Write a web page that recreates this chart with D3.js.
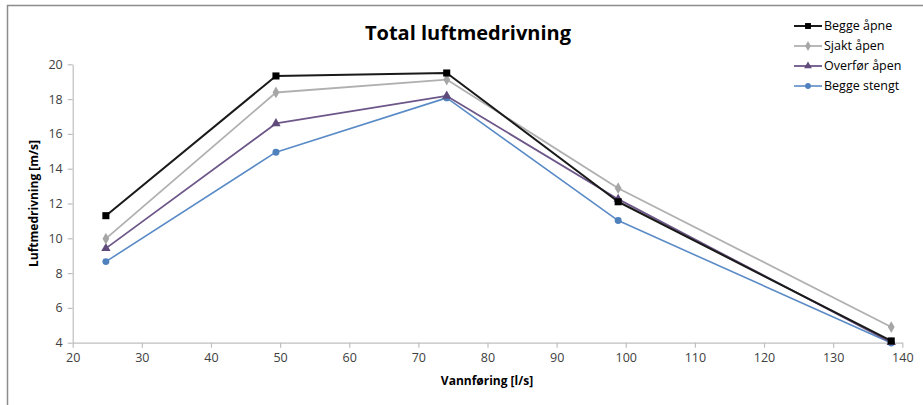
<!DOCTYPE html>
<html>
<head>
<meta charset="utf-8">
<script src="https://cdn.jsdelivr.net/npm/d3@7/dist/d3.min.js"></script>
<style>
  html, body { margin: 0; padding: 0; background: #fff; }
  svg { display: block; }
  text { font-family: "Open Sans", "Liberation Sans", sans-serif; }
</style>
</head>
<body>
<svg id="chart" width="923" height="405"></svg>
<script>
// Flow rates (l/s) at which air entrainment was measured
const flow = [24.8, 49.4, 74.1, 98.9, 138.4];

// Total air entrainment (m/s) per configuration
const beggeApne   = [11.3, 19.33, 19.5, 12.1, 4.1];
const sjaktApen   = [9.98, 18.38, 19.12, 12.88, 4.9];
const overforApen = [9.42, 16.6, 18.18, 12.25, 4.02];
const beggeStengt = [8.66, 14.95, 18.07, 11.02, 3.98];

const seriesNames = ["Begge åpne", "Sjakt åpen", "Overfør åpen", "Begge stengt"];
const xTicks = [20, 30, 40, 50, 60, 70, 80, 90, 100, 110, 120, 130, 140];
const yTicks = [4, 6, 8, 10, 12, 14, 16, 18, 20];

const series = [
  { name: seriesNames[0], values: beggeApne,   color: "#000000", line: "#1a1a1a", width: 2,   symbol: d3.symbolSquare,   size: 50 },
  { name: seriesNames[1], values: sjaktApen,   color: "#a6a6a6", line: "#b0b0b0", width: 1.8, symbol: d3.symbolDiamond,  size: 40 },
  { name: seriesNames[2], values: overforApen, color: "#604a7b", line: "#6d5789", width: 1.8, symbol: d3.symbolTriangle, size: 38 },
  { name: seriesNames[3], values: beggeStengt, color: "#4f81bd", line: "#5a8bc6", width: 1.6, symbol: d3.symbolCircle,   size: 38 }
];

const svg = d3.select("#chart");

// Chart frame
svg.append("rect")
  .attr("x", 7.5).attr("y", 5.5)
  .attr("width", 930).attr("height", 420)
  .attr("fill", "none")
  .attr("stroke", "#8c8c8c")
  .attr("stroke-width", 1.5);

const x = d3.scaleLinear().domain([20, 140]).range([72.7, 902.3]);
const y = d3.scaleLinear().domain([4, 20]).range([342.7, 64.3]);

// Axes
const xAxis = d3.axisBottom(x).tickValues(xTicks).tickSize(5).tickSizeOuter(0).tickPadding(4);
const yAxis = d3.axisLeft(y).tickValues(yTicks).tickSize(5).tickSizeOuter(0).tickPadding(5);

const gx = svg.append("g").attr("transform", `translate(0,${y(4)})`).call(xAxis);
const gy = svg.append("g").attr("transform", `translate(${x(20)},0)`).call(yAxis);

[gx, gy].forEach(g => {
  g.select(".domain").attr("stroke", "#bfbfbf").attr("stroke-width", 1.2);
  g.selectAll(".tick line").attr("stroke", "#bfbfbf").attr("stroke-width", 1.2);
  g.selectAll(".tick text")
    .attr("fill", "#404040")
    .style("font-size", "12.5px")
    .style("font-family", "'Open Sans', 'Liberation Sans', sans-serif");
});
gx.selectAll(".tick text").attr("dy", "0.85em");

// Title
svg.append("text")
  .attr("x", 468).attr("y", 40)
  .attr("text-anchor", "middle")
  .style("font-size", "20px")
  .style("font-weight", "bold")
  .attr("fill", "#000")
  .text("Total luftmedrivning");

// Axis titles
svg.append("text")
  .attr("x", 487).attr("y", 385)
  .attr("text-anchor", "middle")
  .style("font-size", "12px")
  .style("font-weight", "bold")
  .attr("fill", "#000")
  .text("Vannføring [l/s]");

svg.append("text")
  .attr("transform", `translate(38,${(y(4) + y(20)) / 2}) rotate(-90)`)
  .attr("text-anchor", "middle")
  .style("font-size", "12px")
  .style("font-weight", "bold")
  .attr("fill", "#000")
  .text("Luftmedrivning [m/s]");

// Lines and markers, drawn bottom series first so black stays on top
const line = d3.line().x((d, i) => x(flow[i])).y(d => y(d));
const order = [3, 2, 1, 0];
order.forEach(k => {
  const s = series[k];
  svg.append("path")
    .datum(s.values)
    .attr("d", line)
    .attr("fill", "none")
    .attr("stroke", s.line)
    .attr("stroke-width", s.width)
    .attr("stroke-linejoin", "round");
});
order.forEach(k => {
  const s = series[k];
  svg.append("g").selectAll("path")
    .data(s.values)
    .join("path")
    .attr("transform", (d, i) => `translate(${x(flow[i])},${y(d)})`)
    .attr("d", d3.symbol().type(s.symbol).size(s.size))
    .attr("fill", s.color);
});

// Legend
const legend = svg.append("g");
const rowsY = [26, 46, 66, 86];
series.forEach((s, i) => {
  const g = legend.append("g").attr("transform", `translate(0,${rowsY[i]})`);
  g.append("line")
    .attr("x1", 794).attr("x2", 822)
    .attr("y1", 0).attr("y2", 0)
    .attr("stroke", s.line)
    .attr("stroke-width", s.width);
  g.append("path")
    .attr("transform", "translate(808,0)")
    .attr("d", d3.symbol().type(s.symbol).size(s.size * 0.7))
    .attr("fill", s.color);
  g.append("text")
    .attr("x", 824).attr("y", 0)
    .attr("dy", "0.35em")
    .style("font-size", "12.5px")
    .attr("fill", "#000")
    .text(s.name);
});
</script>
</body>
</html>
